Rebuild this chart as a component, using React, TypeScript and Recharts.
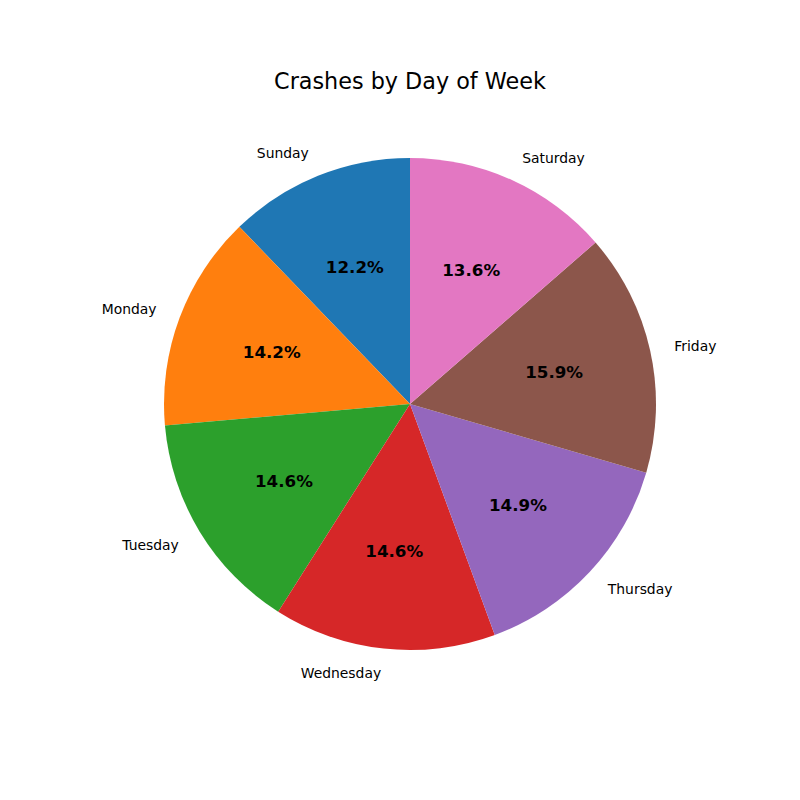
import React from "react";
import { PieChart, Pie, Cell } from "recharts";

const days = ["Sunday", "Monday", "Tuesday", "Wednesday", "Thursday", "Friday", "Saturday"];
const shares = [12.2, 14.2, 14.6, 14.6, 14.9, 15.9, 13.6];
const colors = ["#1f77b4", "#ff7f0e", "#2ca02c", "#d62728", "#9467bd", "#8c564b", "#e377c2"];

const data = days.map((d, i) => ({ name: d, value: shares[i] }));

const RAD = Math.PI / 180;
const FONT = "DejaVu Sans, sans-serif";

const renderLabel = (props: any) => {
  const { cx, cy, midAngle, outerRadius, percent, name } = props;
  const cos = Math.cos(-midAngle * RAD);
  const sin = Math.sin(-midAngle * RAD);
  const ox = cx + outerRadius * 1.1 * cos;
  const oy = cy + outerRadius * 1.1 * sin;
  const ix = cx + outerRadius * 0.6 * cos;
  const iy = cy + outerRadius * 0.6 * sin;
  return (
    <g>
      <text x={ox} y={oy} textAnchor={cos >= 0 ? "start" : "end"} dominantBaseline="central"
        fontFamily={FONT} fontSize={13.9} fill="#000">
        {name}
      </text>
      <text x={ix} y={iy} textAnchor="middle" dominantBaseline="central"
        fontFamily={FONT} fontSize={16.7} fontWeight="bold" fill="#000">
        {(percent * 100).toFixed(1)}%
      </text>
    </g>
  );
};

export default function App() {
  return (
    <div style={{ position: "absolute", left: 0, top: 0, width: 800, height: 800, background: "#fff" }}>
      <div style={{
        position: "absolute", left: 0, width: 820, top: 68, textAlign: "center",
        fontFamily: FONT, fontSize: 22.3, color: "#000", lineHeight: "26px",
      }}>
        Crashes by Day of Week
      </div>
      <PieChart width={800} height={800} margin={{ top: 0, right: 0, bottom: 0, left: 0 }}>
        <Pie
          data={data}
          dataKey="value"
          nameKey="name"
          cx={410}
          cy={404}
          outerRadius={246}
          startAngle={90}
          endAngle={450}
          stroke="none"
          label={renderLabel}
          labelLine={false}
          isAnimationActive={false}
        >
          {data.map((_, i) => (
            <Cell key={`c-${i}`} fill={colors[i]} />
          ))}
        </Pie>
      </PieChart>
    </div>
  );
}
